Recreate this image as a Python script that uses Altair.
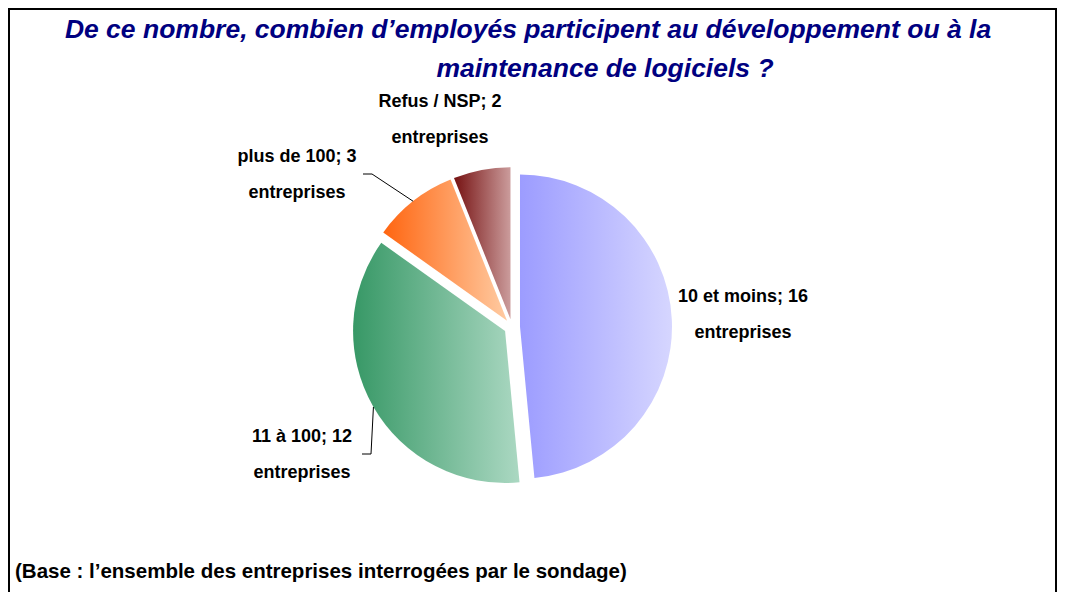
import math
import altair as alt
import pandas as pd

# ---- data ----
categories = ["10 et moins", "11 à 100", "plus de 100", "Refus / NSP"]
counts = [16, 12, 3, 2]
unit = "entreprises"
title_lines = [
    "De ce nombre, combien d\u2019employés participent au développement ou à la",
    "maintenance de logiciels ?",
]
note = "(Base : l\u2019ensemble des entreprises interrogées par le sondage)"

# ---- styling / layout ----
W, H = 1050, 584
CX, CY, R, D = 504, 319, 152, 8
gradients = {
    "10 et moins": ("#9c9cff", "#d6d6ff"),
    "11 à 100": ("#379866", "#abd8c2"),
    "plus de 100": ("#ff6510", "#ffcba2"),
    "Refus / NSP": ("#761212", "#cb9c9c"),
}
# position of the first label line (chart coords)
label_pos = {
    "10 et moins": (735, 289),
    "11 à 100": (294, 429),
    "plus de 100": (289, 149),
    "Refus / NSP": (432, 94),
}
LABEL_FONT = "Liberation Sans, Arial, sans-serif"

df = pd.DataFrame({"cat": categories, "count": counts, "order": range(len(categories))})

base = (
    alt.Chart(df)
    .transform_joinaggregate(total="sum(count)")
    .transform_window(cum="sum(count)", sort=[alt.SortField("order")], frame=[None, 0])
    .transform_calculate(
        t0="2*PI*(datum.cum - datum.count)/datum.total",
        t1="2*PI*datum.cum/datum.total",
    )
    .transform_calculate(mid="(datum.t0 + datum.t1)/2")
    .transform_calculate(
        px=f"{CX} + {D}*sin(datum.mid)",
        py=f"{CY} - {D}*cos(datum.mid)",
    )
)

layers = []
for c in categories:
    a, b = gradients[c]
    grad = alt.LinearGradient(
        gradient="linear",
        stops=[alt.GradientStop(color=a, offset=0), alt.GradientStop(color=b, offset=1)],
        x1=0, x2=1, y1=0, y2=0,
    )
    layers.append(
        base.transform_filter(alt.datum.cat == c)
        .mark_arc(radius=R, fill=grad, strokeWidth=0)
        .encode(
            theta=alt.Theta("t0:Q", scale=None, stack=False),
            theta2="t1:Q",
            x=alt.X("px:Q", scale=None),
            y=alt.Y("py:Q", scale=None),
        )
    )

# labels
total = sum(counts)
lab_df = pd.DataFrame({
    "text": [f"{c}; {v}\n{unit}" for c, v in zip(categories, counts)],
    "lx": [label_pos[c][0] for c in categories],
    "ly": [label_pos[c][1] for c in categories],
})
labels = alt.Chart(lab_df).mark_text(
    font=LABEL_FONT, fontSize=18, fontWeight="bold", color="black",
    lineBreak="\n", lineHeight=36, align="center", baseline="middle",
).encode(x=alt.X("lx:Q", scale=None), y=alt.Y("ly:Q", scale=None), text="text:N")

# leader lines: from elbow to the slice edge at mid angle
cum = 0
mids = []
for v in counts:
    mids.append(2 * math.pi * (cum + v / 2) / total)
    cum += v
def edge(i):
    return (CX + (R + D) * math.sin(mids[i]), CY - (R + D) * math.cos(mids[i]))
e2 = edge(2)
e1 = edge(1)
lead_df = pd.DataFrame({
    "g": ["a", "a", "a", "b", "b", "b"],
    "o": [0, 1, 2, 0, 1, 2],
    "lx": [355, 364, e2[0], 354, 363, e1[0]],
    "ly": [166, 166, e2[1], 446, 446, e1[1]],
})
leaders = alt.Chart(lead_df).mark_line(color="black", strokeWidth=1).encode(
    x=alt.X("lx:Q", scale=None), y=alt.Y("ly:Q", scale=None),
    detail="g:N", order="o:Q",
)

# title
title_df = pd.DataFrame({"t": title_lines, "tx": [520, 597], "ty": [22, 61]})
title = alt.Chart(title_df).mark_text(
    font="Liberation Sans, Arial, sans-serif", fontSize=26.5, fontWeight="bold",
    fontStyle="italic", color="#000080", align="center", baseline="middle",
).encode(x=alt.X("tx:Q", scale=None), y=alt.Y("ty:Q", scale=None), text="t:N")

note_df = pd.DataFrame({"t": [note]})
note_t = alt.Chart(note_df).mark_text(
    font="Liberation Sans, Arial, sans-serif", fontSize=20.5, fontWeight="bold",
    color="black", align="left", baseline="middle",
).encode(x=alt.value(7), y=alt.value(564), text="t:N")

# frame (left, top, right)
fl = alt.Chart(df).mark_rule(color="black", strokeWidth=1.5).encode(
    x=alt.value(1), y=alt.value(0), y2=alt.value(H))
ft = alt.Chart(df).mark_rule(color="black", strokeWidth=2).encode(
    x=alt.value(0), x2=alt.value(1049), y=alt.value(1))
fr = alt.Chart(df).mark_rule(color="black", strokeWidth=1.5).encode(
    x=alt.value(1048), y=alt.value(0), y2=alt.value(H))

chart = alt.layer(*layers, leaders, labels, title, note_t, fl, ft, fr).properties(
    width=W, height=H, padding=0, autosize=alt.AutoSizeParams(type="none"),
    background="white",
).configure_view(stroke=None)

chart.save("out.html", embed_options={"renderer": "svg", "actions": False})
